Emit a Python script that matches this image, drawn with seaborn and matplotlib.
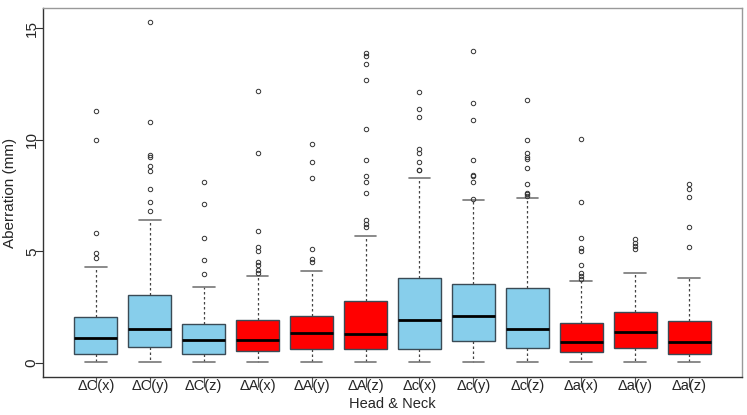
import matplotlib
matplotlib.use("Agg")
import matplotlib.pyplot as plt
import seaborn as sns

# Reading off the picture: five-number summaries (R style hinges) and outliers
labels = ["ΔC(x)", "ΔC(y)", "ΔC(z)", "ΔA(x)", "ΔA(y)", "ΔA(z)",
          "Δc(x)", "Δc(y)", "Δc(z)", "Δa(x)", "Δa(y)", "Δa(z)"]
groups = ["blue", "blue", "blue", "red", "red", "red",
          "blue", "blue", "blue", "red", "red", "red"]
whisker_lo = [0.02, 0.02, 0.02, 0.02, 0.02, 0.02, 0.02, 0.03, 0.02, 0.02, 0.02, 0.02]
q1 = [0.42, 0.70, 0.42, 0.52, 0.61, 0.61, 0.64, 0.99, 0.66, 0.49, 0.67, 0.42]
median = [1.10, 1.52, 1.02, 1.02, 1.36, 1.31, 1.94, 2.12, 1.51, 0.95, 1.39, 0.95]
q3 = [2.06, 3.06, 1.73, 1.91, 2.12, 2.76, 3.81, 3.52, 3.36, 1.78, 2.30, 1.89]
whisker_hi = [4.31, 6.40, 3.42, 3.91, 4.11, 5.70, 8.27, 7.31, 7.40, 3.69, 4.02, 3.82]
outliers = [
    [4.72, 4.91, 5.81, 10.0, 11.3],
    [6.81, 7.21, 7.81, 8.60, 8.81, 9.21, 9.33, 10.8, 15.28],
    [4.0, 4.61, 5.61, 7.11, 8.11],
    [4.04, 4.16, 4.39, 4.54, 5.03, 5.21, 5.91, 9.4, 12.19],
    [4.52, 4.64, 5.12, 8.3, 9.0, 9.81],
    [6.10, 6.22, 6.40, 7.61, 8.11, 8.40, 9.10, 10.51, 12.69, 13.40, 13.76, 13.91],
    [8.64, 8.67, 9.0, 9.39, 9.60, 11.03, 11.4, 12.13],
    [7.37, 8.11, 8.36, 8.42, 9.08, 10.87, 11.67, 13.97],
    [7.48, 7.57, 7.63, 8.02, 8.72, 9.15, 9.24, 9.40, 10.0, 11.8],
    [3.78, 3.90, 4.02, 4.37, 5.03, 5.16, 5.58, 7.2, 10.05],
    [5.12, 5.24, 5.36, 5.54],
    [5.18, 6.10, 7.42, 7.78, 8.02],
]
palette = {"blue": "#87CEEB", "red": "#FF0000"}

sns.set_style("white")
plt.rcParams["font.family"] = ["Liberation Sans", "DejaVu Sans"]

fig = plt.figure(figsize=(7.47, 4.15), dpi=100)
ax = fig.add_axes([0.0576, 0.0916, 0.9357, 0.889])

stats = []
for i, lab in enumerate(labels):
    stats.append({"label": lab, "whislo": whisker_lo[i], "q1": q1[i], "med": median[i],
                  "q3": q3[i], "whishi": whisker_hi[i], "fliers": outliers[i]})

bp = ax.bxp(stats, positions=range(len(labels)), widths=0.8, patch_artist=True,
            showfliers=True,
            boxprops=dict(edgecolor="#3a4a55", linewidth=1.0),
            medianprops=dict(color="black", linewidth=2.0),
            whiskerprops=dict(color="#444444", linewidth=0.9, linestyle=(0, (2, 2))),
            capprops=dict(color="#777777", linewidth=1.2),
            capwidths=0.4,
            flierprops=dict(marker="o", markersize=3.2, markerfacecolor="none",
                            markeredgecolor="#333333", markeredgewidth=0.7))
for patch, g in zip(bp["boxes"], groups):
    patch.set_facecolor(palette[g])

ax.set_xlim(-0.98, 11.98)
ax.set_ylim(-0.63, 15.91)
ax.set_yticks([0, 5, 10, 15])
ax.set_xticks(range(len(labels)))
ax.set_xticklabels(labels)
ax.tick_params(axis="y", labelrotation=90, length=6, width=0.8, color="#333333",
               labelsize=11, pad=-3, left=True)
ax.tick_params(axis="x", length=7, width=0.8, color="#555555", labelsize=10.5,
               pad=-5.5, bottom=True)
for t in ax.get_yticklabels():
    t.set_va("center")

ax.set_xlabel("Head & Neck", fontsize=10.5, labelpad=3)
ax.set_ylabel("Aberration (mm)", fontsize=11, va="center")
ax.yaxis.set_label_coords(-0.047, 0.5)

for side in ["top", "right"]:
    ax.spines[side].set_color("#999999")
for side in ["left", "bottom"]:
    ax.spines[side].set_color("#333333")
for s in ax.spines.values():
    s.set_linewidth(1.0)

fig.savefig("out.png", dpi=100)
